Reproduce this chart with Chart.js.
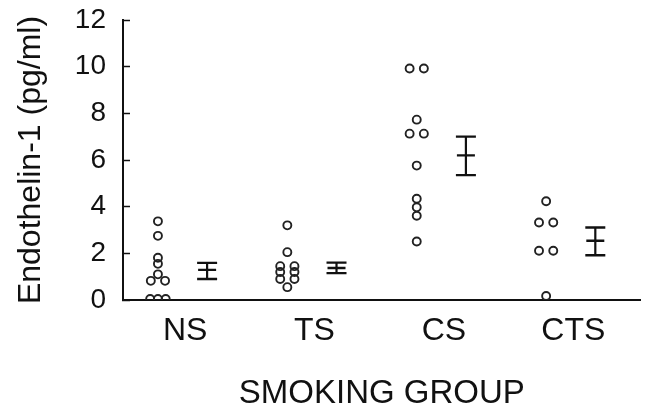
<!DOCTYPE html>
<html>
<head>
<meta charset="utf-8">
<script src="https://cdn.jsdelivr.net/npm/chart.js@4.4.1/dist/chart.umd.min.js"></script>
<style>
  html, body { margin: 0; padding: 0; background: #fff; }
  #wrap { width: 653px; height: 410px; }
</style>
</head>
<body>
<div id="wrap"><canvas id="c" width="653" height="410"></canvas></div>
<script>
// ---- data ----
const groups = ['NS', 'TS', 'CS', 'CTS'];
const nsValues  = [3.37, 2.75, 1.81, 1.55, 1.10, 0.82, 0.82, 0.04, 0.04, 0.04];
const tsValues  = [3.20, 2.05, 1.45, 1.45, 1.20, 1.20, 0.90, 0.90, 0.55];
const csValues  = [9.92, 9.92, 7.73, 7.13, 7.13, 5.76, 4.34, 3.97, 3.61, 2.51];
const ctsValues = [4.23, 3.32, 3.32, 2.11, 2.11, 0.17];
const means  = [1.29, 1.37, 6.20, 2.54];
const uppers = [1.59, 1.60, 7.00, 3.11];
const lowers = [0.90, 1.15, 5.35, 1.92];
const yTicks = [0, 2, 4, 6, 8, 10, 12];

const allValues = [nsValues, tsValues, csValues, ctsValues];

// layout constants (positions in x-scale units)
const DOT_OFFSET = 0.27, BAR_OFFSET = 0.65, LABEL_OFFSET = 0.48;
const INK = '#111';

// dots: equal values are placed side by side, centred on the group column
const dotPoints = [];
allValues.forEach((vals, gi) => {
  const counts = {};
  vals.forEach(v => { counts[v] = (counts[v] || 0) + 1; });
  const seen = {};
  vals.forEach(v => {
    const n = counts[v];
    const k = seen[v] = (seen[v] === undefined ? 0 : seen[v] + 1);
    const spacing = n > 1 ? Math.min(0.11, 0.12 / (n - 1)) : 0;
    dotPoints.push({ x: gi + DOT_OFFSET + (k - (n - 1) / 2) * spacing, y: v });
  });
});

const barDatasets = groups.map((g, gi) => ({
  type: 'scatter',
  showLine: true,
  data: [
    { x: gi + BAR_OFFSET, y: lowers[gi] },
    { x: gi + BAR_OFFSET, y: means[gi] },
    { x: gi + BAR_OFFSET, y: uppers[gi] }
  ],
  borderColor: INK,
  borderWidth: 2.2,
  pointStyle: 'line',
  pointRadius: [10, 9, 10],
  pointBorderWidth: 2.4,
  pointBorderColor: INK,
  pointBackgroundColor: INK
}));

new Chart(document.getElementById('c'), {
  type: 'scatter',
  data: {
    datasets: [
      {
        data: dotPoints,
        pointStyle: 'circle',
        pointRadius: 4,
        pointBorderWidth: 1.9,
        pointBorderColor: '#222',
        pointBackgroundColor: 'rgba(255,255,255,0)',
        showLine: false
      },
      ...barDatasets
    ]
  },
  options: {
    responsive: false,
    animation: false,
    events: [],
    layout: { padding: { top: 20, right: 2, left: 0, bottom: 0 } },
    plugins: { legend: { display: false }, tooltip: { enabled: false } },
    scales: {
      x: {
        type: 'linear',
        min: 0,
        max: 4,
        afterBuildTicks: s => { s.ticks = groups.map((g, i) => ({ value: i + LABEL_OFFSET })); },
        afterFit: s => { s.height = 110; s.paddingLeft = 0; s.paddingRight = 0; },
        grid: { display: false, drawTicks: false },
        border: { display: true, color: INK, width: 2 },
        ticks: {
          padding: 12,
          color: INK,
          font: { family: '"Liberation Sans", Arial, sans-serif', size: 32 },
          callback: (v, i) => groups[i]
        },
        title: {
          display: true,
          text: 'SMOKING GROUP',
          color: INK,
          font: { family: '"Liberation Sans", Arial, sans-serif', size: 33, lineHeight: 1 },
          padding: { top: 0, bottom: 0 }
        }
      },
      y: {
        type: 'linear',
        min: 0,
        max: 12,
        afterBuildTicks: s => { s.ticks = yTicks.map(v => ({ value: v })); },
        afterFit: s => { s.width = 123; s.paddingTop = 0; s.paddingBottom = 0; },
        grid: {
          display: true,
          drawOnChartArea: false,
          drawTicks: true,
          tickLength: -7,
          tickColor: INK,
          tickWidth: 1.5
        },
        border: { display: true, color: INK, width: 2 },
        ticks: {
          padding: 24,
          color: INK,
          font: { family: '"Liberation Sans", Arial, sans-serif', size: 28 }
        },
        title: {
          display: true,
          text: 'Endothelin-1 (pg/ml)',
          color: INK,
          font: { family: '"Liberation Sans", Arial, sans-serif', size: 32, lineHeight: 1 },
          padding: { top: 15, bottom: 0 }
        }
      }
    }
  }
});
</script>
</body>
</html>
